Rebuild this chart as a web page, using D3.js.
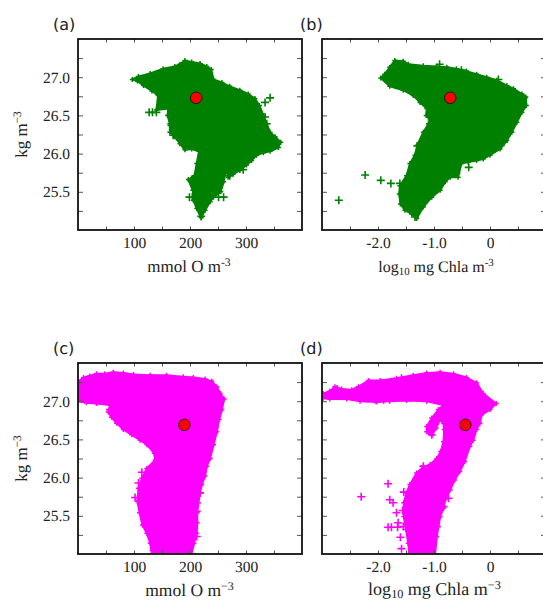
<!DOCTYPE html>
<html>
<head>
<meta charset="utf-8">
<script src="https://cdn.jsdelivr.net/npm/d3@7"></script>
<style>
  body { margin: 0; background: #fff; overflow: hidden; }
  svg { display: block; }
  text { text-rendering: geometricPrecision; }
  .num, .axis-label { font-family: "Liberation Serif", serif; fill: #222; }
  .tag { font-family: "DejaVu Sans", sans-serif; font-size: 16px; fill: #222; }
</style>
</head>
<body>
<svg id="chart" width="543" height="600"></svg>
<script>
// tick values
const oxyTicks = d3.range(50, 400, 50);
const oxyLabels = [100, 200, 300];
const chlTicks = d3.range(-2.5, 1, 0.5);
const chlLabels = [-2, -1, 0];
const sigmaTicks = [25.25, 25.5, 25.75, 26, 26.25, 26.5, 26.75, 27, 27.25];
const sigmaLabels = [25.5, 26, 26.5, 27];

const aOutline = [[97,26.97],[108,27.01],[129,27.05],[152,27.11],[173,27.14],[182,27.17],[191,27.22],[203,27.2],[218,27.18],[230,27.14],[238,27.1],[242,26.97],[257,26.93],[271,26.88],[289,26.83],[304,26.78],[316,26.72],[324,26.63],[331,26.5],[337,26.39],[343,26.28],[352,26.22],[362,26.15],[358,26.08],[343,26.03],[331,26.01],[319,25.98],[310,25.91],[301,25.85],[289,25.78],[277,25.73],[268,25.69],[265,25.87],[263,25.74],[260,25.63],[255,25.5],[242,25.43],[236,25.37],[227,25.26],[220,25.16],[212,25.28],[206,25.39],[205,25.52],[197,25.66],[208,25.71],[212,25.87],[216,26.03],[203,26.06],[191,26.05],[182,26.13],[173,26.22],[164,26.28],[164,26.39],[160,26.5],[161,26.59],[140,26.57],[143,26.76],[132,26.82],[117,26.89],[106,26.95]];
const aStray = [[127,26.54],[133,26.54],[140,26.54],[167,26.37],[170,26.24],[188,26.11],[199,25.43],[204,25.43],[251,25.43],[260,25.43],[220,25.18],[271,25.71],[295,25.79],[334,26.67],[343,26.73],[337,26.39],[334,26.48],[203,25.66]];

const bOutline = [[-1.95,26.99],[-1.88,27.04],[-1.79,27.13],[-1.7,27.22],[-1.55,27.21],[-1.46,27.17],[-1.19,27.15],[-0.95,27.14],[-0.77,27.13],[-0.6,27.11],[-0.42,27.08],[-0.24,27.04],[-0.06,27],[0.12,26.96],[0.3,26.89],[0.42,26.85],[0.57,26.78],[0.64,26.74],[0.65,26.63],[0.57,26.54],[0.48,26.41],[0.39,26.28],[0.3,26.17],[0.18,26.06],[0,25.98],[-0.12,25.93],[-0.24,25.91],[-0.39,25.89],[-0.51,25.87],[-0.57,25.69],[-0.71,25.69],[-0.8,25.63],[-0.89,25.52],[-1.04,25.43],[-1.19,25.3],[-1.31,25.15],[-1.4,25.21],[-1.52,25.26],[-1.6,25.34],[-1.62,25.47],[-1.61,25.58],[-1.49,25.71],[-1.43,25.87],[-1.34,25.98],[-1.3,26.11],[-1.19,26.28],[-1.1,26.39],[-1.07,26.44],[-1.14,26.5],[-1.13,26.59],[-1.25,26.67],[-1.37,26.76],[-1.55,26.83],[-1.79,26.88]];
const bStray = [[-2.23,25.72],[-1.95,25.65],[-1.77,25.61],[-2.7,25.39],[-1.61,25.61],[-0.38,25.82],[-0.9,27.17],[-0.51,27.09],[0.15,26.97],[0.6,26.73],[0.36,26.28],[0.25,26.15],[-0.6,25.74],[-1.34,25.17],[-1.3,26.1]];

const cOutline = [[0,27.26],[10,27.31],[21,27.33],[33,27.36],[48,27.36],[63,27.38],[81,27.37],[99,27.35],[129,27.34],[158,27.34],[188,27.32],[206,27.31],[227,27.29],[239,27.26],[248,27.19],[254,27.1],[261,27.03],[257,26.89],[252,26.76],[248,26.6],[242,26.43],[236,26.25],[230,26.15],[227,26.02],[221,25.91],[218,25.8],[215,25.67],[213,25.54],[213,25.41],[212,25.27],[207,25.14],[203,25],[132,25],[129,25.14],[123,25.27],[115,25.38],[110,25.54],[106,25.69],[108,25.86],[114,25.99],[123,26.12],[138,26.23],[136,26.32],[123,26.43],[111,26.49],[96,26.56],[81,26.63],[69,26.71],[60,26.79],[54,26.86],[57,26.95],[33,26.97],[15,26.98],[0,27]];
const cStray = [[114,26.07],[102,25.74],[57,26.89],[108,25.93],[218,25.8],[212,25.56],[212,25.23],[123,25.36],[135,25.05]];

const dOutline = [[-2.98,27.1],[-2.86,27.13],[-2.77,27.19],[-2.65,27.16],[-2.47,27.15],[-2.35,27.19],[-2.17,27.27],[-1.96,27.27],[-1.67,27.3],[-1.37,27.34],[-1.13,27.37],[-0.89,27.38],[-0.65,27.36],[-0.42,27.31],[-0.24,27.24],[-0.12,27.1],[0.11,26.97],[0,26.89],[-0.15,26.82],[-0.18,26.71],[-0.24,26.63],[-0.3,26.49],[-0.36,26.41],[-0.45,26.21],[-0.54,26.08],[-0.63,25.97],[-0.71,25.84],[-0.8,25.71],[-0.83,25.6],[-0.89,25.49],[-0.92,25.36],[-0.95,25.23],[-0.98,25],[-1.44,25],[-1.46,25.14],[-1.5,25.32],[-1.54,25.49],[-1.54,25.67],[-1.49,25.8],[-1.43,25.91],[-1.31,26.06],[-1.19,26.14],[-1.07,26.17],[-0.95,26.25],[-0.88,26.34],[-0.83,26.47],[-0.82,26.63],[-0.83,26.71],[-0.89,26.76],[-0.96,26.65],[-1.04,26.55],[-1.13,26.6],[-1.13,26.67],[-1.04,26.78],[-0.92,26.89],[-0.83,26.95],[-1.13,27],[-1.49,27.01],[-1.79,27],[-2.02,26.99],[-2.32,27],[-2.56,27.03],[-2.86,27.03],[-2.98,27.04]];
const dStray = [[-1.82,25.92],[-2.3,25.75],[-1.79,25.71],[-1.73,25.67],[-1.54,25.81],[-1.67,25.54],[-1.56,25.57],[-1.82,25.35],[-1.76,25.35],[-1.65,25.35],[-1.64,25.41],[-1.55,25.36],[-1.6,25.22],[-1.58,25.07],[-2.73,27.16],[-2.86,27.07],[-2.62,27.08],[-2.53,27.07],[-2.32,27.08],[-2.17,27.17],[-2.05,27.02],[-0.83,25.62],[-0.74,25.73],[-1.19,26.15],[-1.04,26.56],[-2.32,27.04],[-2.14,27.08],[-1.9,27.02],[-2.23,27.17],[-2.11,27.21],[-1.58,27.3]];

const GREEN = '#008000', MAGENTA = '#ff00ff';

const panels = [
  { id: 'a', outline: aOutline, stray: aStray, dot: [211, 26.73], color: GREEN, kind: 'oxy', left: 78, top: 39, minus: '-', labelX: 111, labelY: 233, labelSize: 17 },
  { id: 'b', outline: bOutline, stray: bStray, dot: [-0.71, 26.73], color: GREEN, kind: 'chl', left: 322, top: 39, minus: '-', labelX: 114, labelY: 233, labelSize: 16 },
  { id: 'c', outline: cOutline, stray: cStray, dot: [190, 26.69], color: MAGENTA, kind: 'oxy', left: 78, top: 363, minus: '\u2212', labelX: 111.5, labelY: 232.5, labelSize: 17.5 },
  { id: 'd', outline: dOutline, stray: dStray, dot: [-0.44, 26.69], color: MAGENTA, kind: 'chl', left: 322, top: 363, minus: '\u2212', labelX: 112.5, labelY: 232, labelSize: 18 },
];

const w = 224, h = 191;
const svg = d3.select('#chart');

function drawPanel(p) {
  const isOxy = p.kind === 'oxy';
  const isLeft = p.left < 100;
  const x = d3.scaleLinear().domain(isOxy ? [0, 400] : [-3, 1]).range([0, w]);
  const y = d3.scaleLinear().domain([25, 27.5]).range([h, 0]);
  const xTicks = isOxy ? oxyTicks : chlTicks;
  const xLabels = isOxy ? oxyLabels : chlLabels;
  const fmtX = (d) => {
    if (!xLabels.includes(d)) return '';
    return isOxy || d === 0 ? String(d) : '-' + Math.abs(d).toFixed(1);
  };

  const g = svg.append('g').attr('transform', `translate(${p.left},${p.top})`);
  const clipId = 'clip-' + p.id;
  g.append('clipPath').attr('id', clipId)
    .append('rect').attr('width', w).attr('height', h);

  // the cloud
  const cloud = g.append('g').attr('clip-path', `url(#${clipId})`);
  const line = d3.line().x((d) => x(d[0])).y((d) => y(d[1])).curve(d3.curveLinearClosed);
  cloud.append('path')
    .attr('d', line(p.outline))
    .attr('fill', p.color)
    .attr('stroke', p.color)
    .attr('stroke-width', 2)
    .attr('stroke-linejoin', 'round');

  // + marks on the cloud edge and the strays
  cloud.selectAll('path.edge')
    .data(p.outline)
    .join('path')
    .attr('class', 'edge')
    .attr('d', 'M-2.5,0H2.5M0,-2.5V2.5')
    .attr('transform', (d) => `translate(${x(d[0])},${y(d[1])})`)
    .attr('stroke', p.color)
    .attr('stroke-width', 1.5);
  cloud.selectAll('path.stray')
    .data(p.stray)
    .join('path')
    .attr('class', 'stray')
    .attr('d', 'M-4,0H4M0,-4V4')
    .attr('transform', (d) => `translate(${x(d[0])},${y(d[1])})`)
    .attr('stroke', p.color)
    .attr('stroke-width', 1.6)
    .attr('fill', 'none');

  // axes, ticks point inwards
  const bottom = g.append('g').attr('transform', `translate(0,${h})`)
    .call(d3.axisBottom(x).tickValues(xTicks).tickSizeInner(-3.5).tickSizeOuter(0).tickPadding(7).tickFormat(fmtX));
  const topAxis = g.append('g')
    .call(d3.axisTop(x).tickValues(xTicks).tickSizeInner(-3.5).tickSizeOuter(0).tickFormat(''));
  const left = g.append('g')
    .call(d3.axisLeft(y).tickValues(sigmaTicks).tickSizeInner(-5).tickSizeOuter(0).tickPadding(8)
      .tickFormat((d) => (isLeft && sigmaLabels.includes(d)) ? d.toFixed(1) : ''));
  const right = g.append('g').attr('transform', `translate(${w},0)`)
    .call(d3.axisRight(y).tickValues(sigmaTicks).tickSizeInner(-5).tickSizeOuter(0).tickFormat(''));

  [bottom, topAxis, left, right].forEach((a) => {
    a.select('.domain').remove();
    a.selectAll('line').attr('stroke', '#555').attr('stroke-width', 1);
    a.selectAll('text').attr('class', 'num').style('font-size', '15.5px');
    a.attr('font-family', null);
  });

  g.append('rect')
    .attr('width', w).attr('height', h)
    .attr('fill', 'none').attr('stroke', '#111').attr('stroke-width', 1.8);

  // reference point
  g.append('circle')
    .attr('cx', x(p.dot[0])).attr('cy', y(p.dot[1])).attr('r', 5.8)
    .attr('fill', '#ff0000').attr('stroke', '#111').attr('stroke-width', 0.9);

  // panel letter
  g.append('text').attr('class', 'tag')
    .attr('x', isLeft ? -25 : -22).attr('y', -9)
    .text(`(${p.id})`);

  // x label
  const small = (p.labelSize * 0.68) + 'px';
  const xl = g.append('text').attr('class', 'axis-label')
    .attr('text-anchor', 'middle')
    .attr('x', p.labelX).attr('y', p.labelY)
    .style('font-size', p.labelSize + 'px');
  if (!isOxy) {
    xl.append('tspan').text('log');
    xl.append('tspan').attr('dy', 3).style('font-size', small).text('10');
    xl.append('tspan').attr('dy', -3).text(' mg Chla m');
  } else {
    xl.append('tspan').text('mmol O m');
  }
  xl.append('tspan').attr('dy', -6).style('font-size', small).text(p.minus + '3');

  // y label
  if (isLeft) {
    const yl = g.append('text').attr('class', 'axis-label')
      .attr('text-anchor', 'middle')
      .attr('transform', `translate(-51,${h / 2}) rotate(-90)`)
      .style('font-size', '17px');
    yl.append('tspan').text('kg m');
    yl.append('tspan').attr('dy', -6).style('font-size', '11.5px').text('\u22123');
  }
}

panels.forEach(drawPanel);
</script>
</body>
</html>
